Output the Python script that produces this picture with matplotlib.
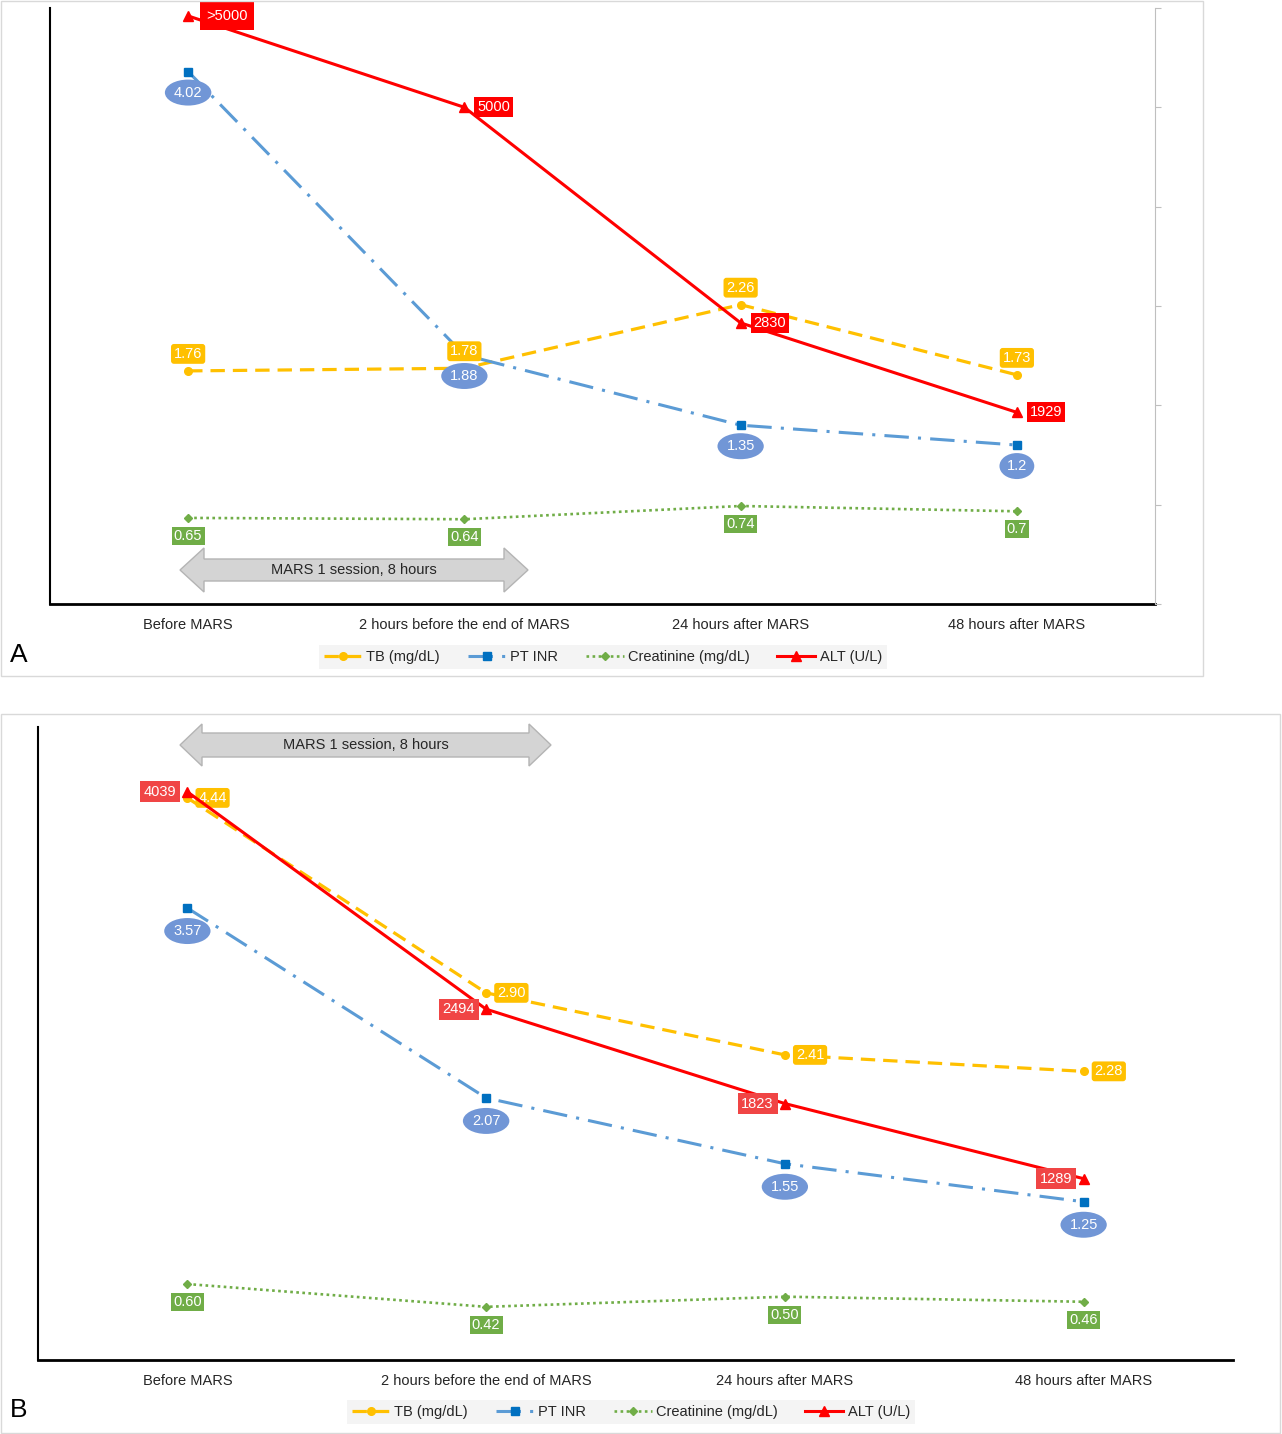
import matplotlib
matplotlib.use('Agg')
import matplotlib.pyplot as plt
from matplotlib.patches import Rectangle, Polygon
from matplotlib.lines import Line2D

plt.rcParams['font.family'] = ['Liberation Sans', 'DejaVu Sans']

W, H = 1282, 1434

# data
cats = ['Before MARS', '2 hours before the end of MARS', '24 hours after MARS', '48 hours after MARS']

tb_a = [1.76, 1.78, 2.26, 1.73]
inr_a = [4.02, 1.88, 1.35, 1.2]
cr_a = [0.65, 0.64, 0.74, 0.7]
alt_a = [5920, 5000, 2830, 1929]
tb_a_lbl = ['1.76', '1.78', '2.26', '1.73']
inr_a_lbl = ['4.02', '1.88', '1.35', '1.2']
cr_a_lbl = ['0.65', '0.64', '0.74', '0.7']
alt_a_lbl = ['>5000', '5000', '2830', '1929']

tb_b = [4.44, 2.90, 2.41, 2.28]
inr_b = [3.57, 2.07, 1.55, 1.25]
cr_b = [0.60, 0.42, 0.50, 0.46]
alt_b = [4039, 2494, 1823, 1289]
tb_b_lbl = ['4.44', '2.90', '2.41', '2.28']
inr_b_lbl = ['3.57', '2.07', '1.55', '1.25']
cr_b_lbl = ['0.60', '0.42', '0.50', '0.46']
alt_b_lbl = ['4039', '2494', '1823', '1289']

legend_names = ['TB (mg/dL)', 'PT INR', 'Creatinine (mg/dL)', 'ALT (U/L)']

C_TB = '#FFC000'
C_INR = '#5B9BD5'
C_INR_M = '#0070C0'
C_INR_LBL = '#7196D6'
C_CR = '#70AD47'
C_ALT = '#FF0000'

fig = plt.figure(figsize=(W / 100, H / 100), dpi=100)


def px_rect(x0, y0, x1, y1):
    return [x0 / W, 1 - y1 / H, (x1 - x0) / W, (y1 - y0) / H]


def fx(x):
    return x / W


def fy(y):
    return 1 - y / H


# panel frames
fig.patches.append(Rectangle((fx(1), fy(676)), 1202 / W, 675 / H, transform=fig.transFigure,
                             fill=False, ec='#D9D9D9', lw=1))
fig.patches.append(Rectangle((fx(1), fy(1433)), 1279 / W, 719 / H, transform=fig.transFigure,
                             fill=False, ec='#D9D9D9', lw=1))

x = list(range(len(cats)))

TB_LS = (0, (4.5, 2.5))
INR_LS = (0, (8, 3, 1, 3))
CR_LS = (0, (1, 1.3))


def draw_lines(ax, ax2, tb, inr, cr, alt):
    ax.plot(x, tb, color=C_TB, lw=2.3, ls=TB_LS, marker='o', ms=5.5, zorder=3)
    ax.plot(x, inr, color=C_INR, lw=2.2, ls=INR_LS, marker='s', ms=5.5,
            mfc=C_INR_M, mec=C_INR_M, zorder=3)
    ax.plot(x, cr, color=C_CR, lw=1.9, ls=CR_LS, marker='D', ms=4, zorder=3)
    ax2.plot(x, alt, color=C_ALT, lw=2.2, ls='-', marker='^', ms=7, zorder=3)


def lbl(ax, xi, yi, s, fc, dx, dy, ha='center', style='round,pad=0.2'):
    ax.annotate(s, xy=(xi, yi), xytext=(dx, dy), textcoords='offset pixels', ha=ha, va='center',
                color='white', fontsize=10.5, zorder=6,
                bbox=dict(boxstyle=style, fc=fc, ec='none'))


def style_axes(ax, ax2, right_visible):
    ax.set_xlim(-0.5, 3.5)
    ax.set_xticks(x)
    ax.set_xticklabels(cats, fontsize=10.5, color='#262626')
    ax.tick_params(axis='x', length=0, pad=10)
    ax.set_yticks([])
    ax.spines['top'].set_visible(False)
    ax.spines['right'].set_visible(False)
    ax.spines['left'].set_color('black')
    ax.spines['left'].set_linewidth(1.5)
    ax.spines['bottom'].set_color('black')
    ax.spines['bottom'].set_linewidth(2)
    ax2.spines['top'].set_visible(False)
    ax2.spines['left'].set_visible(False)
    ax2.spines['bottom'].set_visible(False)
    if right_visible:
        ax2.spines['right'].set_color('#BFBFBF')
        ax2.tick_params(axis='y', colors='#BFBFBF', length=4, labelright=False)
    else:
        ax2.spines['right'].set_visible(False)
        ax2.set_yticks([])


def darrow(x0, x1, yc, hh, sh, hl, text):
    pts = [(x0, yc), (x0 + hl, yc - hh), (x0 + hl, yc - sh), (x1 - hl, yc - sh), (x1 - hl, yc - hh),
           (x1, yc), (x1 - hl, yc + hh), (x1 - hl, yc + sh), (x0 + hl, yc + sh), (x0 + hl, yc + hh)]
    pts = [(fx(a), fy(b)) for a, b in pts]
    fig.patches.append(Polygon(pts, closed=True, transform=fig.transFigure,
                               fc='#D4D4D4', ec='#B4B4B4', lw=1))
    fig.text(fx((x0 + x1) / 2), fy(yc), text, ha='center', va='center', fontsize=10.5, color='#262626')


# ---------- panel A ----------
axA = fig.add_axes(px_rect(50, 8, 1155, 604))
axA2 = axA.twinx()
axA.set_ylim(0, 4.5)
axA2.set_ylim(0, 6000)
axA2.set_yticks(range(0, 6001, 1000))
axA.patch.set_visible(False)
draw_lines(axA, axA2, tb_a, inr_a, cr_a, alt_a)
style_axes(axA, axA2, True)
for i in x:
    lbl(axA, i, tb_a[i], tb_a_lbl[i], C_TB, 0, 17)
    lbl(axA, i, inr_a[i], inr_a_lbl[i], C_INR_LBL, 0, -21, style='ellipse,pad=0.15')
    lbl(axA, i, cr_a[i], cr_a_lbl[i], C_CR, 0, -18, style='square,pad=0.15')
    if i == 0:
        lbl(axA2, i, alt_a[i], alt_a_lbl[i], C_ALT, 18, 0, ha='left', style='square,pad=0.45')
    else:
        lbl(axA2, i, alt_a[i], alt_a_lbl[i], C_ALT, 13, 0, ha='left', style='square,pad=0.2')
darrow(180, 528, 570, 22, 11, 24, 'MARS 1 session, 8 hours')
fig.text(fx(10), fy(655), 'A', fontsize=19, ha='left', va='center', color='black')

# ---------- panel B ----------
axB = fig.add_axes(px_rect(38, 727, 1233, 1360))
axB2 = axB.twinx()
axB.set_ylim(0, 5)
axB2.set_ylim(0, 4500)
axB.patch.set_visible(False)
draw_lines(axB, axB2, tb_b, inr_b, cr_b, alt_b)
style_axes(axB, axB2, False)
for i in x:
    lbl(axB, i, tb_b[i], tb_b_lbl[i], C_TB, 11, 0, ha='left')
    lbl(axB, i, inr_b[i], inr_b_lbl[i], C_INR_LBL, 0, -23, style='ellipse,pad=0.15')
    lbl(axB, i, cr_b[i], cr_b_lbl[i], C_CR, 0, -18, style='square,pad=0.15')
    lbl(axB2, i, alt_b[i], alt_b_lbl[i], '#F04545', -11, 0, ha='right', style='square,pad=0.25')
darrow(180, 551, 745, 21, 12, 22, 'MARS 1 session, 8 hours')
fig.text(fx(10), fy(1410), 'B', fontsize=19, ha='left', va='center', color='black')

# legends
handles = [
    Line2D([], [], color=C_TB, lw=2.3, ls=TB_LS, marker='o', ms=5.5),
    Line2D([], [], color=C_INR, lw=2.2, ls=INR_LS, marker='s', ms=5.5, mfc=C_INR_M, mec=C_INR_M),
    Line2D([], [], color=C_CR, lw=1.9, ls=CR_LS, marker='D', ms=4),
    Line2D([], [], color=C_ALT, lw=2.2, marker='^', ms=7),
]
for cx, cy in [(603, 657), (631, 1412)]:
    leg = fig.legend(handles, legend_names, loc='center', bbox_to_anchor=(fx(cx), fy(cy)),
                     ncol=4, frameon=True, fontsize=10.5, handlelength=2.6, handletextpad=0.3,
                     columnspacing=1.9, borderpad=0.35, fancybox=False)
    leg.get_frame().set_facecolor('#F2F2F2')
    leg.get_frame().set_edgecolor('none')
    for t in leg.get_texts():
        t.set_color('#262626')

fig.savefig('out.png', dpi=100)
